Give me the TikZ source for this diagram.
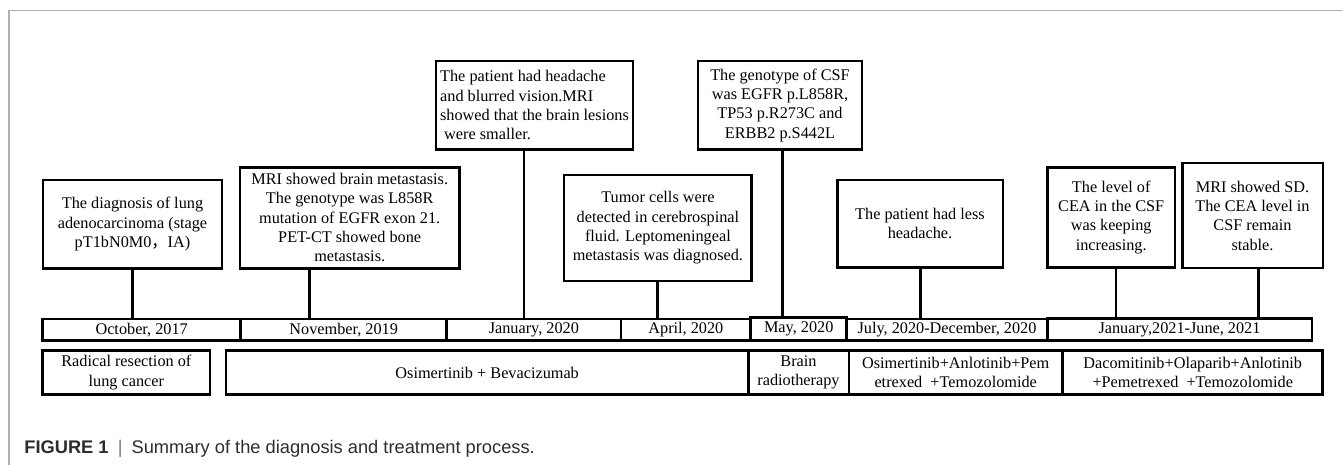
\documentclass[tikz,border=0pt]{standalone}
\usepackage{fontspec}
\setmainfont{Liberation Serif}
\newfontfamily\capfont{Liberation Sans}
\newfontfamily\cjk{Noto Sans CJK SC}
\definecolor{framegrey}{RGB}{175,175,175}
\definecolor{capgrey}{RGB}{45,45,45}
\definecolor{bargrey}{RGB}{120,120,120}
\begin{document}
\begin{tikzpicture}[x=0.02cm,y=-0.02cm,
  box/.style={draw,line width=1.4pt,inner sep=0pt,align=center,font=\fontsize{9.25}{11}\selectfont},
  stem/.style={line width=1.4pt}]
\useasboundingbox (0,0) rectangle (1342,465);
\draw[framegrey,line width=0.8pt] (9,465) -- (9,10.5) -- (1342,10.5);
\node[box,minimum width=3.59cm,minimum height=1.77cm] (e1) at (132.5,224.2) {The diagnosis of lung\\adenocarcinoma (stage\\pT1bN0M0{\cjk ，}IA)};
\node[box,minimum width=4.39cm,minimum height=2.02cm] (e2) at (349.7,217.8) {MRI showed brain metastasis.\\The genotype was L858R\\mutation of EGFR exon 21.\\PET-CT showed bone\\metastasis.};
\node[box,align=left,minimum width=3.95cm,minimum height=1.77cm] (e3) at (534.5,105.2) {The patient had headache\\and blurred vision.MRI\\showed that the brain lesions\\\ were smaller.};
\node[box,minimum width=3.29cm,minimum height=1.77cm] (e4) at (780,105.2) {The genotype of CSF\\was EGFR p.L858R,\\TP53 p.R273C and\\ERBB2 p.S442L};
\node[box,minimum width=3.75cm,minimum height=2.12cm] (e5) at (657.9,228) {Tumor cells were\\detected in cerebrospinal\\fluid. Leptomeningeal\\metastasis was diagnosed.};
\node[box,minimum width=3.31cm,minimum height=1.75cm] (e6) at (920,223.7) {The patient had less\\headache.};
\node[box,minimum width=2.55cm,minimum height=2.0cm] (e7) at (1111.2,217.3) {The level of\\CEA in the CSF\\was keeping\\increasing.};
\node[box,minimum width=2.81cm,minimum height=2.11cm] (e8) at (1252.5,215.5) {MRI showed SD.\\The CEA level in\\CSF remain\\stable.};
\node[box,minimum width=3.96cm,minimum height=0.43cm] (d1) at (141.7,329.7) {October, 2017};
\node[box,minimum width=4.12cm,minimum height=0.43cm] (d2) at (343.7,329.7) {November, 2019};
\node[box,minimum width=3.49cm,minimum height=0.43cm] (d3) at (533.85,329.7) {January, 2020};
\node[box,minimum width=2.59cm,minimum height=0.43cm] (d4) at (685.85,329.7) {April, 2020};
\node[box,minimum width=1.92cm,minimum height=0.46cm] (d5) at (798.7,328.9) {May, 2020};
\node[box,minimum width=4.01cm,minimum height=0.43cm] (d6) at (947,329.7) {July, 2020-December, 2020};
\node[box,minimum width=5.29cm,minimum height=0.44cm] (d7) at (1179.5,329.4) {January,2021-June, 2021};
\node[box,minimum width=3.35cm,minimum height=0.88cm] (t1) at (126.35,372.5) {Radical resection of\\lung cancer};
\node[box,minimum width=10.45cm,minimum height=0.88cm] (t2) at (487.15,372.5) {Osimertinib + Bevacizumab};
\node[box,minimum width=2.01cm,minimum height=0.88cm] (t3) at (798.5,372.5) {Brain\\radiotherapy};
\node[box,minimum width=4.28cm,minimum height=0.88cm] (t4) at (955.7,372.5) {Osimertinib+Anlotinib+Pem\\etrexed\ \ +Temozolomide};
\node[box,minimum width=5.2cm,minimum height=0.88cm] (t5) at (1192.7,372.5) {Dacomitinib+Olaparib+Anlotinib\\+Pemetrexed\ \ +Temozolomide};
\foreach \e/\d/\sx in {e1/d1/132.3,e2/d2/309.3,e3/d3/524,e4/d5/782.7,e5/d4/657.7,e6/d6/920.7,e7/d7/1116,e8/d7/1258.3}{
  \coordinate (s) at (\sx,0);
  \draw[stem] (\e.south -| s) -- (\d.north -| s);
}
\node[anchor=west,inner sep=0pt,text=capgrey,font=\capfont\fontsize{10.4}{12}\selectfont] (cap) at (24,449) {\textbf{FIGURE 1}\enspace{\color{bargrey}|}\enspace Summary of the diagnosis and treatment process.};
\end{tikzpicture}
\end{document}
